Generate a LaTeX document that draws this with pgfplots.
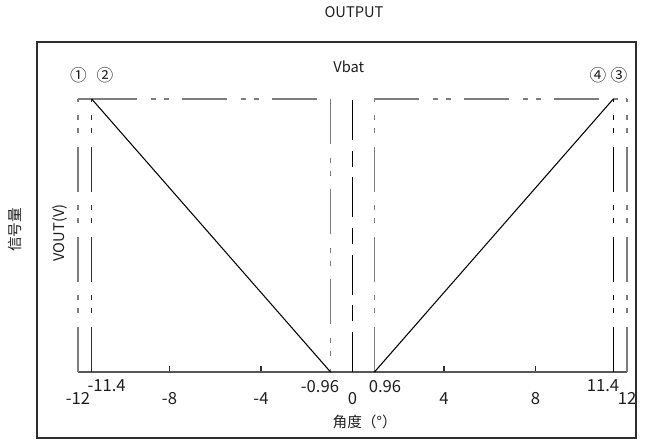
\documentclass[border=0pt]{standalone}
\usepackage{fontspec}
\setmainfont{Noto Sans CJK SC}
\usepackage{pgfplots}
\pgfplotsset{compat=1.18}
\definecolor{lg}{RGB}{125,125,125}
\definecolor{dg}{RGB}{45,45,45}
\definecolor{tx}{RGB}{30,30,30}
\newcommand\ff{\fontsize{11}{13}\selectfont}
\newcommand\cf{\fontsize{12.5}{14}\selectfont}
\newcommand\tf{\fontsize{12.5}{14}\selectfont}
\tikzset{ddot/.style={dash pattern=on 33.75pt off 10.5pt on 3.75pt off 6pt on 3.75pt off 9.75pt}}
\begin{document}
\begin{tikzpicture}
\useasboundingbox (0,0) rectangle (490.5pt,332.25pt);
\begin{axis}[
  at={(58.5pt,53.25pt)}, anchor=south west,
  scale only axis, width=411.75pt, height=204.75pt,
  xmin=-12, xmax=12, ymin=0, ymax=1,
  clip=false,
  axis x line*=bottom, axis y line=none,
  x axis line style={-, color=dg!80, line width=0.8pt},
  xtick={-12,-8,-4,0,4,8,12},
  xticklabels={-12,-8,-4,0,4,8,12},
  tick align=inside, major tick length=4.5pt,
  tick style={color=dg, line width=0.8pt},
  xticklabel style={font=\tf, text=tx},
  xticklabel shift=12pt,
  extra x ticks={-10.75,-1.42,1.42,10.95},
  extra x tick labels={-11.4,-0.96,0.96,11.4},
  extra x tick style={major tick length=0pt, xticklabel shift=2.5pt},
  no markers,
]
% left group
\addplot[lg, line width=1.1pt, ddot] coordinates {(-12,0) (-12,1)};
\addplot[lg, line width=1.1pt, ddot] coordinates {(-12,1) (-11.4,1)};
\addplot[lg, line width=1.1pt, ddot] coordinates {(-11.4,1) (-0.96,1)};
\addplot[lg, line width=1.1pt, ddot] coordinates {(-0.96,1) (-0.96,0)};
\addplot[dg, line width=1.1pt, ddot] coordinates {(-11.4,0) (-11.4,1)};
\addplot[black, line width=0.8pt] coordinates {(-11.4,1) (-0.96,0)};
% centre
\addplot[black, line width=1.1pt, dash pattern=on 30pt off 8pt on 12pt off 8pt] coordinates {(0,0) (0,1.015)};
% right group
\addplot[lg, line width=1.1pt, ddot] coordinates {(0.96,0) (0.96,1)};
\addplot[lg, line width=1.1pt, ddot] coordinates {(0.96,1) (12,1)};
\addplot[lg, line width=1.1pt, ddot] coordinates {(12,0) (12,1)};
\addplot[black, line width=1.1pt, ddot] coordinates {(11.4,0) (11.4,1)};
\addplot[black, line width=0.8pt] coordinates {(0.96,0) (11.4,1)};
% annotations
\node[font=\ff, text=tx] at (axis cs:-0.16,1.117) {Vbat};
\node[font=\cf, text=tx] at (axis cs:-11.98,1.088) {①};
\node[font=\cf, text=tx] at (axis cs:-10.82,1.088) {②};
\node[font=\cf, text=tx] at (axis cs:10.73,1.088) {④};
\node[font=\cf, text=tx] at (axis cs:11.65,1.088) {③};
\end{axis}
\draw[dg, line width=0.8pt] (27.75pt,3.75pt) rectangle (477pt,300.75pt);
\node[font=\ff, text=tx] at (265.5pt,322.9pt) {OUTPUT};
\node[font=\ff, text=tx, rotate=90] at (11.25pt,159.75pt) {信号量};
\node[font=\ff, text=tx, rotate=90] at (45pt,157.5pt) {VOUT(V)};
\node[font=\ff, text=tx] at (273.5pt,15.75pt) {角度（°）};
\end{tikzpicture}
\end{document}
